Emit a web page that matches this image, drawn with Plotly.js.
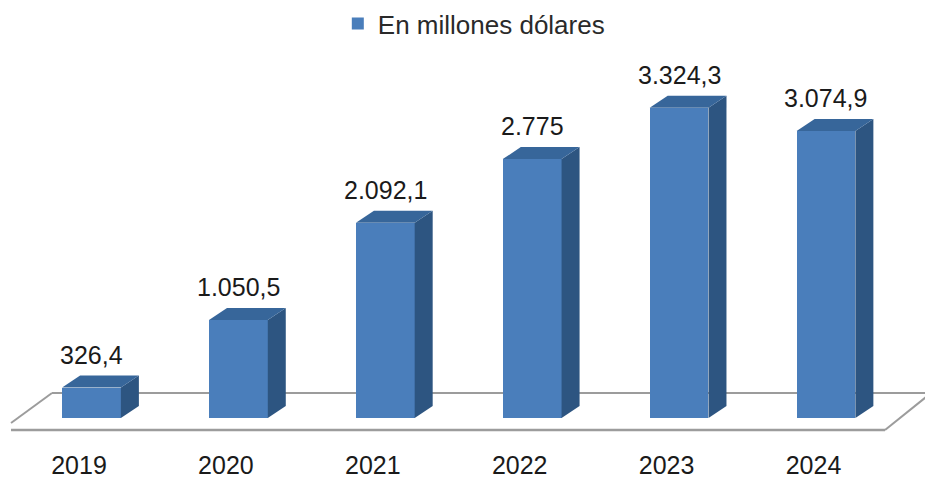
<!DOCTYPE html>
<html>
<head>
<meta charset="utf-8">
<script src="https://cdn.plot.ly/plotly-3.0.1.min.js"></script>
<style>html,body{margin:0;padding:0;background:#fff;}#chart{width:925px;height:479px;}</style>
</head>
<body>
<div id="chart"></div>
<script>
// ---- data ----
const years = ['2019', '2020', '2021', '2022', '2023', '2024'];
const values = [326.4, 1050.5, 2092.1, 2775, 3324.3, 3074.9];
const seriesName = 'En millones dólares';

// ---- styling / geometry constants ----
const FRONT = '#4a7ebb', TOP = '#37669a', SIDE = '#2d5581';
const BAR_W = 0.40;           // front face width (category units)
const DX = 0.1225;            // depth offset in x (category units)
const DY = 128.6;             // depth offset in y (value units)
const FONT = 'Liberation Sans, Arial, Helvetica, sans-serif';

function fmt(v) {
  const parts = v.toFixed(1).split('.');
  const intPart = parts[0].replace(/\B(?=(\d{3})+(?!\d))/g, '.');
  return parts[1] === '0' ? intPart : intPart + ',' + parts[1];
}

const idx = years.map((_, i) => i);
const traces = [];

traces.push({
  type: 'bar', x: idx, y: values, width: BAR_W, name: seriesName,
  marker: { color: FRONT, line: { width: 0 } }, hoverinfo: 'y'
});

idx.forEach((i) => {
  const v = values[i];
  const xl = i - BAR_W / 2, xr = i + BAR_W / 2;
  traces.push({
    type: 'scatter', mode: 'lines', fill: 'toself', fillcolor: SIDE,
    line: { width: 0, color: SIDE }, showlegend: false, hoverinfo: 'skip',
    x: [xr, xr + DX, xr + DX, xr, xr], y: [0, DY, v + DY, v, 0]
  });
  traces.push({
    type: 'scatter', mode: 'lines', fill: 'toself', fillcolor: TOP,
    line: { width: 0, color: TOP }, showlegend: false, hoverinfo: 'skip',
    x: [xl, xr, xr + DX, xl + DX, xl], y: [v, v, v + DY, v + DY, v]
  });
});

// floor (decorative platform)
const FL_FRONT = -128.6, FL_BACK = 268, FL_LEFT_END = -53.6;
const floorColor = '#9c9c9c';
const shapes = [
  { type: 'line', xref: 'x', yref: 'y', layer: 'below', x0: -0.548, x1: 5.402, y0: FL_FRONT, y1: FL_FRONT, line: { color: floorColor, width: 2.5 } },
  { type: 'line', xref: 'x', yref: 'y', layer: 'below', x0: -0.548, x1: -0.269, y0: FL_LEFT_END, y1: FL_BACK, line: { color: floorColor, width: 2 } },
  { type: 'line', xref: 'x', yref: 'y', layer: 'below', x0: -0.269, x1: 5.8, y0: FL_BACK, y1: FL_BACK, line: { color: floorColor, width: 2 } },
  { type: 'line', xref: 'x', yref: 'y', layer: 'below', x0: 5.402, x1: 5.715, y0: FL_FRONT, y1: FL_BACK, line: { color: floorColor, width: 2 } }
];

const annotations = idx.map((i) => ({
  x: i, y: values[i], xref: 'x', yref: 'y', text: fmt(values[i]),
  showarrow: false, yshift: 33, yanchor: 'middle', xanchor: 'center',
  font: { family: FONT, size: 25, color: '#1a1a1a' }
}));

const layout = {
  width: 925, height: 479,
  margin: { l: 0, r: 0, t: 0, b: 31 },
  paper_bgcolor: '#ffffff', plot_bgcolor: 'rgba(0,0,0,0)',
  font: { family: FONT },
  showlegend: true,
  legend: {
    orientation: 'h', x: 0.3652, xanchor: 'left', y: 1.0, yanchor: 'top',
    font: { family: FONT, size: 26, color: '#2a2a2a' }, bgcolor: 'rgba(0,0,0,0)'
  },
  xaxis: {
    range: [-0.623, 5.674], showgrid: false, zeroline: false, showline: false,
    tickmode: 'array', tickvals: idx.map((i) => i - 0.085), ticktext: years,
    ticks: '', tickfont: { family: FONT, size: 25, color: '#1a1a1a' }, fixedrange: true
  },
  yaxis: {
    range: [-321.5, 4480], showgrid: false, zeroline: false, showline: false,
    showticklabels: false, ticks: '', fixedrange: true
  },
  shapes: shapes,
  annotations: annotations,
  bargap: 0
};

Plotly.newPlot('chart', traces, layout, { displayModeBar: false, staticPlot: true });
</script>
</body>
</html>
